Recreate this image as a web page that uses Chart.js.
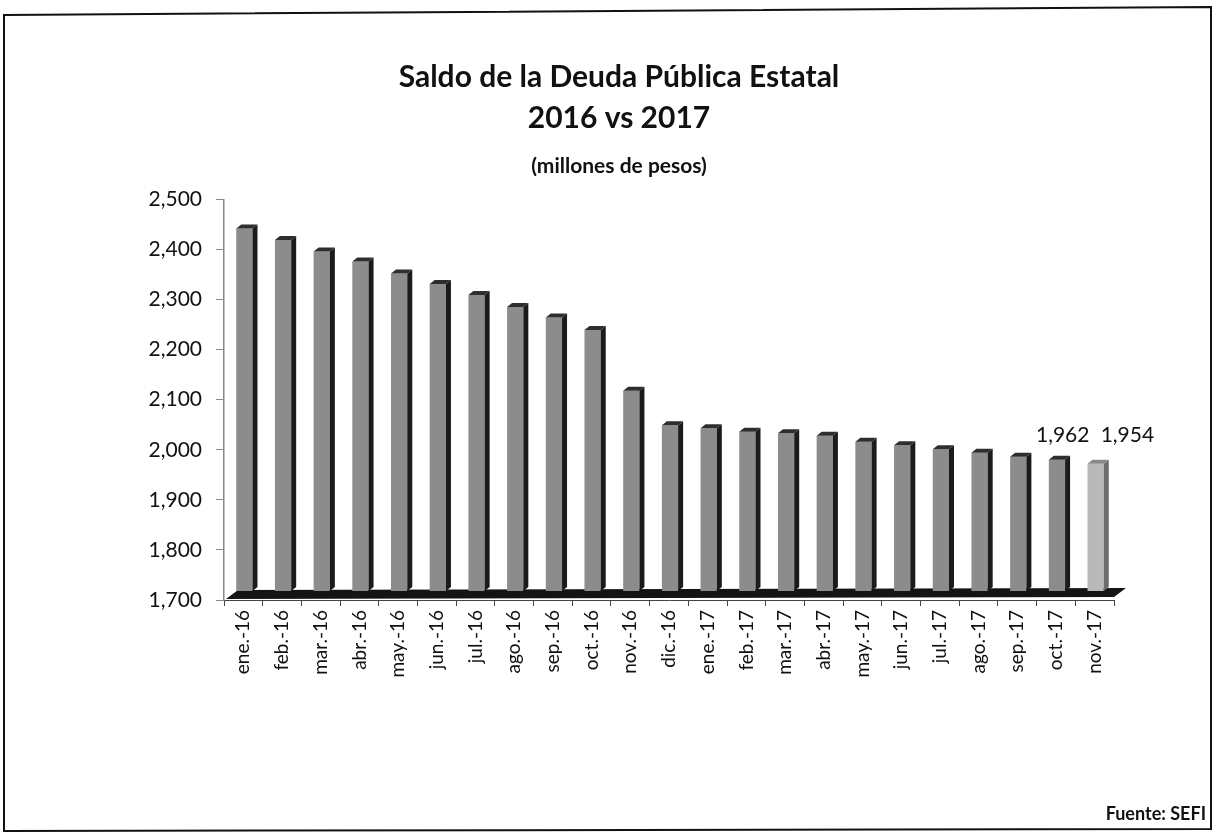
<!DOCTYPE html>
<html>
<head>
<meta charset="utf-8">
<script src="https://cdn.jsdelivr.net/npm/chart.js@4.4.1/dist/chart.umd.min.js"></script>
<style>
html,body{margin:0;padding:0;background:#fff;}
#wrap{position:relative;width:1214px;height:836px;overflow:hidden;}
#frame,#c{position:absolute;left:0;top:0;}
</style>
</head>
<body>
<div id="wrap">
<svg id="frame" width="1214" height="836"><polygon points="4,15 1211,7 1211,829 4,831" fill="none" stroke="#111" stroke-width="2"/></svg>
<canvas id="c" width="1214" height="836"></canvas>
</div>
<script>
// ---- data ----
const categories = ['ene.-16','feb.-16','mar.-16','abr.-16','may.-16','jun.-16','jul.-16','ago.-16','sep.-16','oct.-16','nov.-16','dic.-16',
  'ene.-17','feb.-17','mar.-17','abr.-17','may.-17','jun.-17','jul.-17','ago.-17','sep.-17','oct.-17','nov.-17'];
const saldo = [2424,2401,2378,2358,2334,2313,2291,2267,2246,2221,2100,2031,
  2025,2018,2015,2010,1998,1991,1983,1976,1968,1962,1954];
const yMin = 1700;
const yMax = 2500;
const yStep = 100;
const labeledCategories = ['oct.-17','nov.-17'];
const titleLines = ['Saldo de la Deuda Pública Estatal','2016 vs 2017'];
const subtitleText = '(millones de pesos)';
const sourceText = 'Fuente: SEFI';

// ---- styling ----
const FONT = 'Lato, "Open Sans", "DejaVu Sans", sans-serif';
Chart.defaults.font.family = FONT;
Chart.defaults.color = '#111';
const fmt = v => Number(v).toLocaleString('en-US');
const lastIdx = categories.length - 1;
const lift = {dx: 1, dy: -9};
const depth = {dx: 5, dy: 4};

const bar3d = {
  id: 'bar3d',
  beforeDatasetsDraw(chart) {
    const {ctx, chartArea: a} = chart;
    ctx.save();
    ctx.fillStyle = '#141414';
    ctx.beginPath();
    ctx.moveTo(a.left + 2, a.bottom - 1);
    ctx.lineTo(a.left + 14, a.bottom - 10);
    ctx.lineTo(a.right + 12, a.bottom - 12);
    ctx.lineTo(a.right, a.bottom - 3);
    ctx.closePath();
    ctx.fill();
    ctx.restore();
    ctx.save();
    ctx.translate(lift.dx, lift.dy);
  },
  afterDatasetsDraw(chart) {
    const ctx = chart.ctx;
    const a = chart.chartArea;
    const meta = chart.getDatasetMeta(0);
    meta.data.forEach((bar, i) => {
      const p = bar.getProps(['x','y','base','width'], true);
      const l = p.x - p.width / 2, r = p.x + p.width / 2, t = p.y;
      const b = Math.min(p.base, a.bottom);
      const last = i === lastIdx;
      ctx.fillStyle = last ? '#6d6d6d' : '#1b1b1b';
      ctx.beginPath();
      ctx.moveTo(r, t); ctx.lineTo(r + depth.dx, t - depth.dy);
      ctx.lineTo(r + depth.dx, b - depth.dy); ctx.lineTo(r, b);
      ctx.closePath(); ctx.fill();
      ctx.fillStyle = last ? '#8a8a8a' : '#2e2e2e';
      ctx.beginPath();
      ctx.moveTo(l, t); ctx.lineTo(l + depth.dx, t - depth.dy);
      ctx.lineTo(r + depth.dx, t - depth.dy); ctx.lineTo(r, t);
      ctx.closePath(); ctx.fill();
    });
    ctx.restore();
  },
  afterDraw(chart) {
    const ctx = chart.ctx;
    const meta = chart.getDatasetMeta(0);
    ctx.save();
    ctx.font = '21px ' + FONT;
    ctx.fillStyle = '#111';
    ctx.textBaseline = 'middle';
    let labelY = null;
    labeledCategories.forEach((c, k) => {
      const i = categories.indexOf(c);
      const bar = meta.data[i];
      if (labelY === null) labelY = bar.y + lift.dy - 25;
      ctx.textAlign = 'left';
      const x = k === 0 ? bar.x - 20 : bar.x + 6;
      ctx.fillText(fmt(saldo[i]), x, labelY);
    });
    ctx.font = 'bold 18px ' + FONT;
    ctx.textAlign = 'right';
    ctx.fillText(sourceText, 1206, 814);
    ctx.restore();
  }
};

new Chart(document.getElementById('c'), {
  type: 'bar',
  data: {
    labels: categories,
    datasets: [{
      data: saldo,
      backgroundColor: ctx => ctx.dataIndex === lastIdx ? '#b9b9b9' : '#8c8c8c',
      borderWidth: 0,
      barPercentage: 0.42,
      categoryPercentage: 1.0
    }]
  },
  options: {
    responsive: false,
    animation: false,
    layout: {padding: {left: 124, right: 100, top: 0, bottom: 0}},
    plugins: {
      legend: {display: false},
      tooltip: {enabled: false},
      title: {
        display: true, text: titleLines, color: '#111',
        font: {size: 30, weight: 'bold', lineHeight: 1.37},
        padding: {top: 57, bottom: 5}
      },
      subtitle: {
        display: true, text: subtitleText, color: '#111',
        font: {size: 21, weight: 'bold'},
        padding: {top: 9, bottom: 21}
      }
    },
    scales: {
      x: {
        offset: true,
        grid: {display: true, drawOnChartArea: false, drawTicks: true, tickLength: 6, color: '#444', offset: true},
        border: {display: true, color: '#444', width: 1},
        ticks: {minRotation: 90, maxRotation: 90, autoSkip: false, padding: 4, color: '#111', font: {size: 19}},
        afterFit: s => { s.height = 236; }
      },
      y: {
        min: yMin, max: yMax,
        grid: {display: true, drawOnChartArea: false, drawTicks: true, tickLength: 8, color: '#888'},
        border: {display: true, color: '#888', width: 1.5},
        ticks: {stepSize: yStep, padding: 14, color: '#111', font: {size: 21}, callback: v => fmt(v)},
        afterFit: s => { s.width = 100; }
      }
    }
  },
  plugins: [bar3d]
});
</script>
</body>
</html>
